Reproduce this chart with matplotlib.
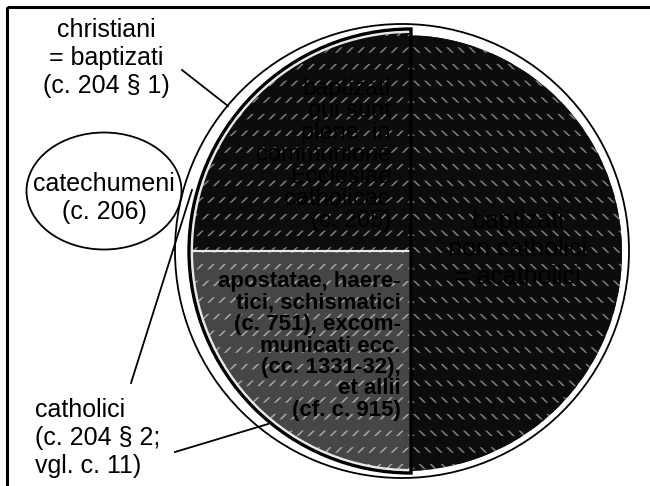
import matplotlib.pyplot as plt
from matplotlib.patches import Circle, Ellipse, Rectangle, Wedge

plt.rcParams['font.family'] = ['Liberation Sans', 'DejaVu Sans']
plt.rcParams['hatch.linewidth'] = 1.1

# groups of the baptized (share of the circle)
left_groups = ["apostatae", "plene"]
left_shares = [25, 25]
right_groups = ["acatholici"]
right_shares = [50]

outer_label = "christiani\n= baptizati\n(c. 204 § 1)"
catech_label = "catechumeni\n(c. 206)"
cath_label = "catholici\n(c. 204 § 2;\nvgl. c. 11)"
plene_label = "baptizati\nqui sunt\nplene  in\ncommunione\nEcclesiae\ncatholicae\n(c. 205)"
apost_label = ("apostatae, haere-\ntici, schismatici\n(c. 751), excom-\n"
               "municati ecc.\n(cc. 1331-32),\net allii\n(cf. c. 915)")
acath_label = "baptizati\nnon catholici\n= acatholici"

dark = '#0c0c0c'
grey = '#464646'


def row_breaks(w, fc):
    # horizontal bands in the fill colour cut the hatch into short dashes
    if not hasattr(w, 'set_hatch_linewidth'):
        return
    band = Wedge(w.center, w.r, w.theta1, w.theta2, fc='none', ec=fc, lw=0,
                 hatch='-', zorder=w.get_zorder() + 0.05)
    band.set_hatch_linewidth(8.0)
    ax.add_patch(band)


fig = plt.figure(figsize=(6.5, 4.86), dpi=100)
ax = fig.add_axes([0, 0, 1, 1])

# frame (right and bottom edges cut off)
ax.add_patch(Rectangle((7, 7), 700, 520, fill=False, ec='black', lw=2.2))

# outer circle: all baptized
ax.add_patch(Circle((402, 251), 227, fill=False, ec='black', lw=1.3))

# right half: acatholici (y axis is inverted, so angles are mirrored)
w_right, _ = ax.pie([sum(left_shares)] + right_shares, center=(404, 253), radius=218,
                    startangle=90, counterclock=True, frame=True,
                    wedgeprops=dict(lw=0))
w_right[0].set_visible(False)
w_right[1].set_facecolor(dark)
w_right[1].set_edgecolor('#808080')
w_right[1].set_hatch('\\\\\\')
row_breaks(w_right[1], dark)

# left half: catholici
w_left, _ = ax.pie(left_shares + [sum(right_shares)], center=(411, 251), radius=219,
                   startangle=90, counterclock=True, frame=True,
                   wedgeprops=dict(lw=0))
w_left[2].set_visible(False)
for w, fc, hc in zip(w_left[:2], [grey, dark], ['#a8a8a8', '#808080']):
    w.set_facecolor(fc)
    w.set_edgecolor(hc)
    w.set_hatch('///')
    row_breaks(w, fc)
    ax.add_patch(Wedge(w.center, w.r, w.theta1, w.theta2, fill=False,
                       ec='#e8e8e8', lw=1.5, zorder=w.get_zorder() + 0.1))
ax.add_patch(Wedge((411, 251), 222, 90, 270, fill=False, ec='black', lw=2.4, zorder=3))

ax.set_xlim(0, 650)
ax.set_ylim(486, 0)
ax.set_aspect('auto')
ax.axis('off')

# catechumeni ellipse
ax.add_patch(Ellipse((104, 191), 155, 117, fill=False, ec='black', lw=1.3))

# leader lines
ax.plot([182, 228], [70, 106], color='black', lw=1.3)
ax.plot([131, 192], [383, 190], color='black', lw=1.3)
ax.plot([175, 268], [452, 424], color='black', lw=1.3)

ax.text(106, 58, outer_label, fontsize=18, ha='center', va='center', linespacing=1.2)
ax.text(104, 198, catech_label, fontsize=18, ha='center', va='center', linespacing=1.2)
ax.text(35, 438, cath_label, fontsize=18, ha='left', va='center', linespacing=1.2)
ax.text(391, 155, plene_label, fontsize=17, ha='right', va='center',
        linespacing=1.0, color='black', zorder=5)
ax.text(401, 346, apost_label, fontsize=16, ha='right', va='center',
        linespacing=1.03, fontweight='bold', color='black', zorder=5)
ax.text(518, 249, acath_label, fontsize=18, ha='center', va='center',
        linespacing=1.2, color='black', zorder=5)

fig.savefig('out.png', dpi=100)
